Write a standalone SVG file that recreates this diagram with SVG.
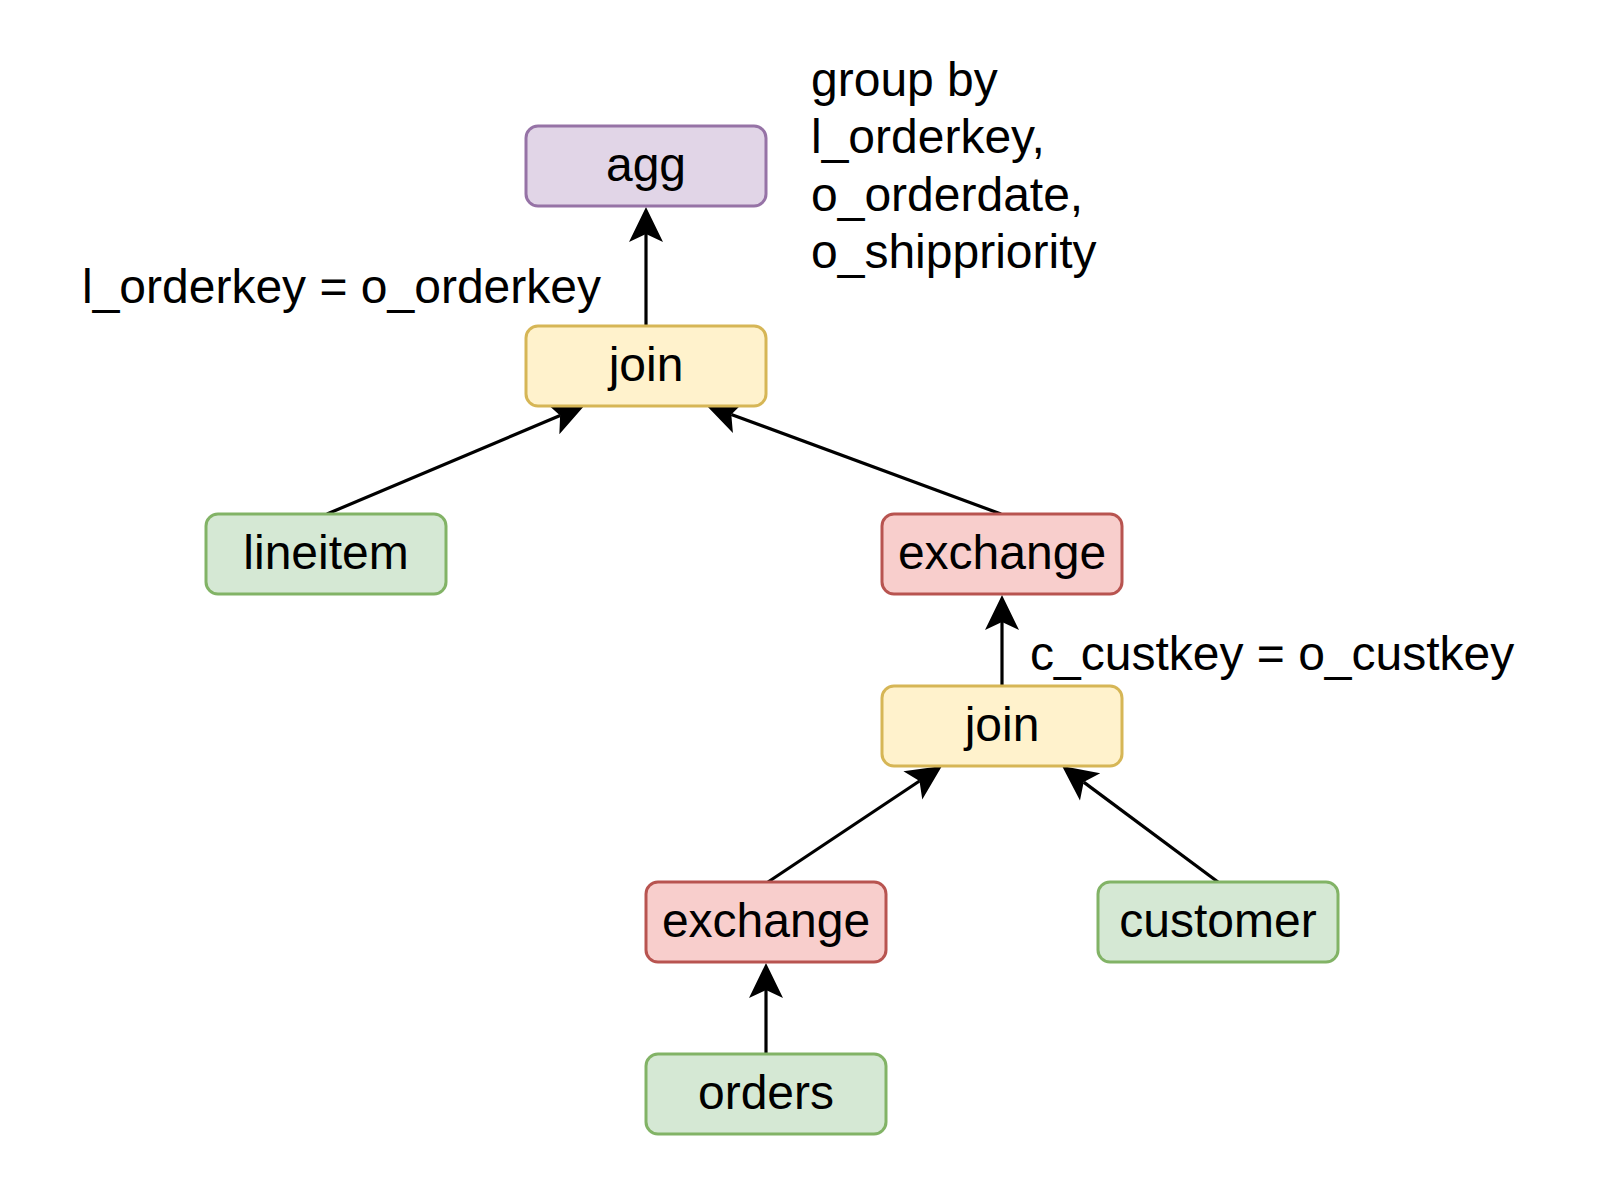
<svg xmlns="http://www.w3.org/2000/svg" width="1616" height="1180" viewBox="0 0 1616 1180">
  <style>
    .box { stroke-width: 3; }
    .purple { fill: #e1d5e7; stroke: #9673a6; }
    .yellow { fill: #fff2cc; stroke: #d6b656; }
    .green { fill: #d5e8d4; stroke: #82b366; }
    .red { fill: #f8cecc; stroke: #b85450; }
    .label { font-family: "Liberation Sans", Arial, Helvetica, sans-serif; font-size: 48px; fill: #000; text-anchor: middle; }
    .note { font-family: "Liberation Sans", Arial, Helvetica, sans-serif; font-size: 48px; fill: #000; }
    .edge { stroke: #000; stroke-width: 3.2; fill: none; marker-end: url(#arrow); }
  </style>
  <defs>
    <marker id="arrow" markerUnits="userSpaceOnUse" viewBox="0 -18 36 36" refX="8" refY="0" markerWidth="36" markerHeight="36" orient="auto" overflow="visible">
      <path d="M35,0 L0,-17 L8,0 L0,17 Z" fill="#000" stroke="none"/>
    </marker>
  </defs>
  <rect width="1616" height="1180" fill="#ffffff"/>

  <g id="connectors">
    <line class="edge" x1="646" y1="326" x2="646" y2="234"/>
    <line class="edge" x1="327" y1="514" x2="560.1" y2="415.5"/>
    <line class="edge" x1="1001" y1="514" x2="731.3" y2="414.4"/>
    <line class="edge" x1="1002" y1="686" x2="1002" y2="622"/>
    <line class="edge" x1="768" y1="882" x2="919.5" y2="781"/>
    <line class="edge" x1="1218" y1="882" x2="1083.7" y2="782.1"/>
    <line class="edge" x1="766" y1="1054" x2="766" y2="990"/>
  </g>

  <g id="node-agg">
    <rect class="box purple" x="526" y="126" width="240" height="80" rx="12"/>
    <text class="label" x="646" y="181">agg</text>
  </g>
  <g id="node-join1">
    <rect class="box yellow" x="526" y="326" width="240" height="80" rx="12"/>
    <text class="label" x="646" y="381">join</text>
  </g>
  <g id="node-lineitem">
    <rect class="box green" x="206" y="514" width="240" height="80" rx="12"/>
    <text class="label" x="326" y="569">lineitem</text>
  </g>
  <g id="node-exchange1">
    <rect class="box red" x="882" y="514" width="240" height="80" rx="12"/>
    <text class="label" x="1002" y="569">exchange</text>
  </g>
  <g id="node-join2">
    <rect class="box yellow" x="882" y="686" width="240" height="80" rx="12"/>
    <text class="label" x="1002" y="741">join</text>
  </g>
  <g id="node-exchange2">
    <rect class="box red" x="646" y="882" width="240" height="80" rx="12"/>
    <text class="label" x="766" y="937">exchange</text>
  </g>
  <g id="node-customer">
    <rect class="box green" x="1098" y="882" width="240" height="80" rx="12"/>
    <text class="label" x="1218" y="937">customer</text>
  </g>
  <g id="node-orders">
    <rect class="box green" x="646" y="1054" width="240" height="80" rx="12"/>
    <text class="label" x="766" y="1109">orders</text>
  </g>

  <g id="notes">
    <text class="note" x="82" y="303">l_orderkey = o_orderkey</text>
    <text class="note" x="1030" y="670">c_custkey = o_custkey</text>
    <text class="note" x="811" y="96">group by</text>
    <text class="note" x="811" y="153">l_orderkey,</text>
    <text class="note" x="811" y="211">o_orderdate,</text>
    <text class="note" x="811" y="268">o_shippriority</text>
  </g>
</svg>
